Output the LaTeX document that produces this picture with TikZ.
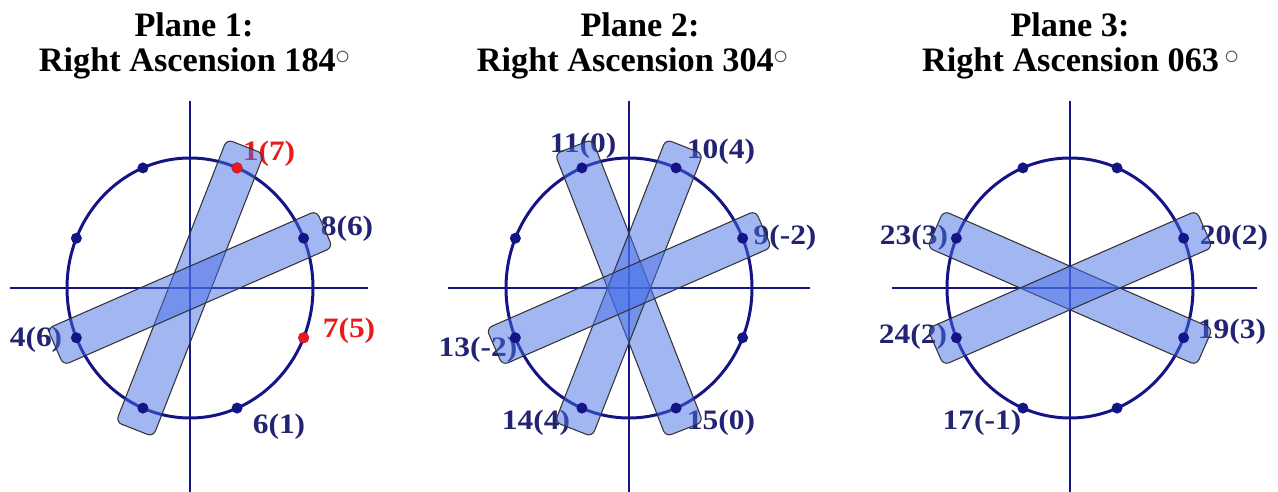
\documentclass[tikz,border=0pt]{standalone}
\usepackage{fontspec}
\setmainfont{Liberation Serif}
\newfontfamily\lblfont[FakeStretch=1.12]{Liberation Serif}
\usetikzlibrary{calc, math}
\definecolor{navy}{RGB}{20,20,135}
\definecolor{lblnavy}{RGB}{35,35,115}
\definecolor{dotred}{RGB}{235,25,25}
\definecolor{bandblue}{RGB}{70,110,230}
\tikzset{
  axis/.style={navy, line width=1.1pt},
  orbit/.style={navy, line width=1.7pt},
  sat/.style={circle, fill=navy, inner sep=0pt, minimum size=0.22cm},
  satred/.style={sat, fill=dotred},
  band/.style={draw=black!80, line width=0.6pt, fill=bandblue, fill opacity=0.5,
    rounded corners=3.5pt, minimum height=0.8cm, inner sep=0pt},
  lbl/.style={text=lblnavy, font=\lblfont\bfseries\fontsize{16}{18}\selectfont, inner sep=0pt},
  lblred/.style={lbl, text=dotred},
  title/.style={font=\bfseries\fontsize{19.5}{20}\selectfont, anchor=base, inner sep=0pt}
}
\newcommand{\degsign}{\raisebox{4.2pt}{\fontsize{18}{18}\selectfont\textcolor{black!65}{$\circ$}}}
% band between two satellites
\newcommand{\satband}[2]{%
  \path let \p1=(#1), \p2=(#2), \n1={atan2(\y2-\y1,\x2-\x1)}, \n2={veclen(\x2-\x1,\y2-\y1)} in
    node[band, rotate=\n1, minimum width={\n2+26pt}] at ($(#1)!0.5!(#2)$) {};}

\begin{document}
\begin{tikzpicture}[x=0.02cm, y=-0.02cm]
\useasboundingbox (0,0) rectangle (1278,492);
\tikzmath{
\rx=123; \ry=130;
}
% titles
\node[title] (t1a) at (194,37) {Plane 1:};
\node[title] (t1b) at (195,72) {Right Ascension 184\degsign};
\node[title] (t2a) at (640,37) {Plane 2:};
\node[title] (t2b) at (633,72) {Right Ascension 304\degsign};
\node[title] (t3a) at (1070,37) {Plane 3:};
\node[title] (t3b) at (1081,72) {Right Ascension 063\,\degsign};

% axes, orbits, satellite positions
\foreach \p/\cx/\xl/\xr in {1/190/10/368, 2/629/448/810, 3/1070/892/1257}{
  \coordinate (c\p) at (\cx,288);
  \draw[axis] (\xl,288) -- (\xr,288);
  \draw[axis] (\cx,101) -- (\cx,492);
  \draw[orbit] (c\p) ellipse [x radius=\rx, y radius=\ry];
  \foreach \k in {1,...,8}
    \coordinate (s\p-\k) at ({\cx+\rx*cos(45*\k-22.5)},{288-\ry*sin(45*\k-22.5)});
}

% labels
\node[lblred] (l1) at (269,154) {1(7)};
\node[lbl] (l8) at (347,229) {8(6)};
\node[lblred] (l7) at (349,331) {7(5)};
\node[lbl] (l4) at (36,340) {4(6)};
\node[lbl] (l6) at (279,427) {6(1)};
\node[lbl] (l11) at (583,146) {11(0)};
\node[lbl] (l10) at (721,152) {10(4)};
\node[lbl] (l9) at (785,238) {9(-2)};
\node[lbl] (l13) at (478,350) {13(-2)};
\node[lbl] (l14) at (536,423) {14(4)};
\node[lbl] (l15) at (721,423) {15(0)};
\node[lbl] (l23) at (914,238) {23(3)};
\node[lbl] (l20) at (1234,238) {20(2)};
\node[lbl] (l24) at (913,337) {24(2)};
\node[lbl] (l19) at (1232,332) {19(3)};
\node[lbl] (l17) at (982,423) {17(-1)};

% bands
\satband{s1-2}{s1-6}
\satband{s1-1}{s1-5}
\satband{s2-3}{s2-7}
\satband{s2-2}{s2-6}
\satband{s2-1}{s2-5}
\satband{s3-4}{s3-8}
\satband{s3-1}{s3-5}

% satellites
\foreach \p in {1,2,3}
  \foreach \k in {1,...,8}
    \node[sat] (d\p-\k) at (s\p-\k) {};
\node[satred] at (s1-2) {};
\node[satred] at (s1-8) {};
\end{tikzpicture}
\end{document}
